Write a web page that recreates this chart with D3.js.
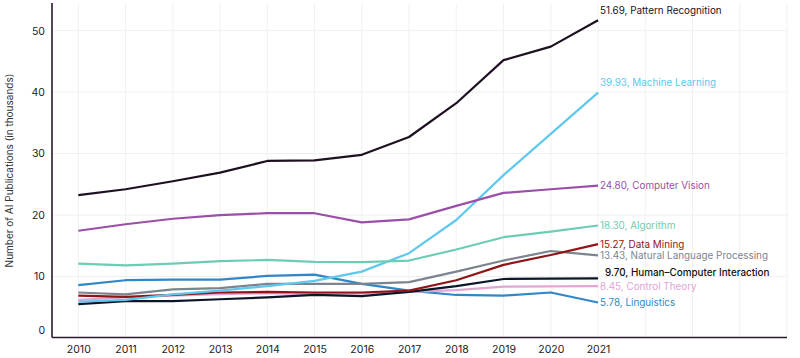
<!DOCTYPE html>
<html>
<head>
<meta charset="utf-8">
<script src="https://cdn.jsdelivr.net/npm/d3@7"></script>
<style>
  html, body { margin: 0; padding: 0; background: #ffffff; }
  svg { display: block; font-family: Inter, "Open Sans", sans-serif; }
</style>
</head>
<body>
<svg id="chart" width="800" height="358"></svg>
<script>
// ---- data ----
const years = [2010, 2011, 2012, 2013, 2014, 2015, 2016, 2017, 2018, 2019, 2020, 2021];
const patternRecognition = [23.25, 24.2, 25.5, 26.9, 28.8, 28.9, 29.8, 32.7, 38.2, 45.2, 47.4, 51.69];
const machineLearning = [5.9, 6.2, 7.1, 7.7, 8.45, 9.3, 10.8, 13.8, 19.2, 26.5, 33.2, 39.93];
const computerVision = [17.45, 18.5, 19.4, 20.0, 20.3, 20.3, 18.8, 19.3, 21.5, 23.6, 24.2, 24.80];
const algorithm = [12.1, 11.8, 12.1, 12.5, 12.7, 12.4, 12.35, 12.6, 14.4, 16.4, 17.3, 18.30];
const dataMining = [6.9, 6.7, 7.0, 7.4, 7.5, 7.4, 7.4, 7.7, 9.4, 11.9, 13.5, 15.27];
const nlp = [7.4, 7.1, 7.9, 8.1, 8.8, 8.8, 8.8, 9.1, 10.8, 12.6, 14.15, 13.43];
const hci = [5.5, 6.0, 6.0, 6.3, 6.6, 7.0, 6.8, 7.5, 8.45, 9.6, 9.65, 9.70];
const controlTheory = [6.2, 6.6, 6.9, 7.15, 7.3, 7.15, 7.25, 7.5, 7.8, 8.35, 8.4, 8.45];
const linguistics = [8.6, 9.4, 9.5, 9.5, 10.1, 10.3, 8.8, 7.7, 7.0, 6.9, 7.4, 5.78];
const seriesNames = ["Linguistics", "Control Theory", "Human\u2013Computer Interaction",
  "Natural Language Processing", "Data Mining", "Machine Learning", "Algorithm",
  "Computer Vision", "Pattern Recognition"];
const seriesValues = [linguistics, controlTheory, hci, nlp, dataMining, machineLearning,
  algorithm, computerVision, patternRecognition];
const yTicks = [0, 10, 20, 30, 40, 50];
const xTicks = years;
const yTitle = "Number of AI Publications (in thousands)";

// ---- styles (kept apart from data) ----
const colors = {
  "Linguistics": "#2f87c8",
  "Control Theory": "#e2a5d6",
  "Human\u2013Computer Interaction": "#0b1729",
  "Natural Language Processing": "#7b848f",
  "Data Mining": "#8f1518",
  "Machine Learning": "#5ec8ee",
  "Algorithm": "#6dccb4",
  "Computer Vision": "#9a50a8",
  "Pattern Recognition": "#1e1022"
};
const labelColors = Object.assign({}, colors, {"Human\u2013Computer Interaction": "#111111"});
const labelShift = {
  "Pattern Recognition": [0, -10],
  "Machine Learning": [0, -10],
  "Human\u2013Computer Interaction": [5, -6]
};

const svg = d3.select("#chart");
const mLeft = 52, mRight = 787, mTop = 3, mBottom = 338;

const x = d3.scaleLinear().domain([2010, 2025]).range([78.3, mRight]);
const y = d3.scaleLinear().domain([0, 54.5]).range([mBottom, mTop]);

// gridlines
const grid = svg.append("g");
grid.selectAll("line.h").data(yTicks.filter(d => d > 0)).join("line")
  .attr("x1", mLeft).attr("x2", mRight)
  .attr("y1", d => y(d)).attr("y2", d => y(d))
  .attr("stroke", "#efefef").attr("stroke-width", 1);
grid.selectAll("line.v").data(d3.range(2010, 2026)).join("line")
  .attr("x1", d => x(d)).attr("x2", d => x(d))
  .attr("y1", mTop).attr("y2", mBottom - 2)
  .attr("stroke", "#f1f1f1").attr("stroke-width", 1);

// y axis labels
const yAxis = svg.append("g").attr("transform", `translate(${mLeft},0)`)
  .call(d3.axisLeft(y).tickValues(yTicks).tickSize(0).tickPadding(7));
yAxis.select(".domain").remove();
yAxis.selectAll("text").attr("font-size", 10.5).attr("fill", "#222")
  .attr("font-family", "Inter, 'Open Sans', sans-serif");
yAxis.selectAll(".tick").filter(d => d === 0).select("text").attr("dy", "-0.4em");

// x axis labels
const xAxis = svg.append("g").attr("transform", `translate(0,${mBottom})`)
  .call(d3.axisBottom(x).tickValues(xTicks).tickFormat(d3.format("d")).tickSize(0).tickPadding(8));
xAxis.select(".domain").remove();
xAxis.selectAll("text").attr("font-size", 10.5).attr("fill", "#222")
  .attr("font-family", "Inter, 'Open Sans', sans-serif");

// axis lines
svg.append("line").attr("x1", mLeft).attr("x2", mLeft).attr("y1", mTop).attr("y2", mBottom - 0.5)
  .attr("stroke", "#2a1a2e").attr("stroke-width", 1.6);
svg.append("line").attr("x1", mLeft).attr("x2", mRight).attr("y1", mBottom - 0.5).attr("y2", mBottom - 0.5)
  .attr("stroke", "#2a1a2e").attr("stroke-width", 1.6);

// y title
svg.append("text")
  .attr("transform", `translate(13,${(mTop + mBottom) / 2}) rotate(-90)`)
  .attr("text-anchor", "middle")
  .attr("font-size", 10)
  .attr("fill", "#333")
  .text(yTitle);

// lines
const line = d3.line().x((d, i) => x(years[i])).y(d => y(d));
seriesNames.forEach((name, k) => {
  svg.append("path").datum(seriesValues[k])
    .attr("d", line)
    .attr("fill", "none")
    .attr("stroke", colors[name])
    .attr("stroke-width", 2.2)
    .attr("stroke-linejoin", "round");
});

// end labels
seriesNames.forEach((name, k) => {
  const vals = seriesValues[k];
  const last = vals[vals.length - 1];
  const sh = labelShift[name] || [0, 0];
  svg.append("text")
    .attr("x", x(years[years.length - 1]) + 2 + sh[0])
    .attr("y", y(last) + sh[1])
    .attr("dy", "0.35em")
    .attr("font-size", 9.9)
    .attr("fill", labelColors[name])
    .attr("font-weight", name.startsWith("Human") ? 500 : 400)
    .text(d3.format(".2f")(last) + ", " + name);
});
</script>
</body>
</html>
